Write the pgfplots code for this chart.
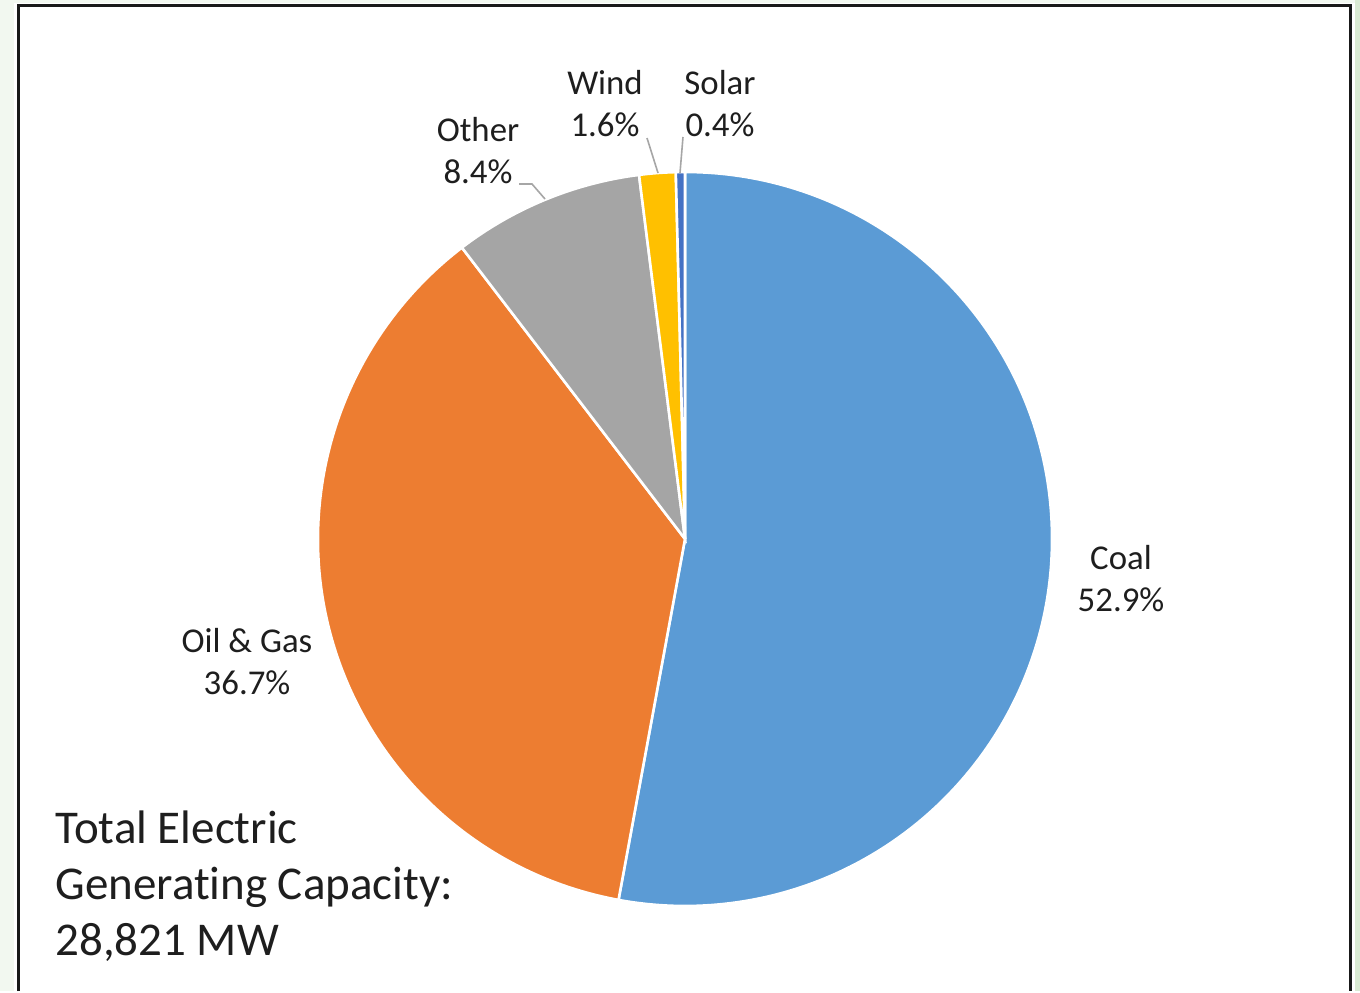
\documentclass[border=0pt]{standalone}
\usepackage{pgfplots}
\pgfplotsset{compat=1.18}
\usepackage{fontspec}
\setmainfont{Carlito}[Ligatures=NoCommon]
\definecolor{coalc}{HTML}{5B9BD5}
\definecolor{oilc}{HTML}{ED7D31}
\definecolor{otherc}{HTML}{A5A5A5}
\definecolor{windc}{HTML}{FFC000}
\definecolor{solarc}{HTML}{4472C4}
\definecolor{leader}{HTML}{A6A6A6}
\definecolor{bgout}{HTML}{F2F8F0}
\definecolor{bgright}{HTML}{D9EAD3}
\definecolor{txt}{HTML}{1E1E1E}
\begin{document}
\begin{tikzpicture}
% shares in percent
\pgfmathsetmacro\aA{90}
\pgfmathsetmacro\aB{\aA-52.9*3.6}% Coal
\pgfmathsetmacro\aC{\aB-36.7*3.6}% Oil & Gas
\pgfmathsetmacro\aD{\aC-8.4*3.6}% Other
\pgfmathsetmacro\aE{\aD-1.6*3.6}% Wind
\pgfmathsetmacro\aF{\aE-0.4*3.6}% Solar
\begin{axis}[
  width=680bp, height=495.5bp, scale only axis,
  xmin=0, xmax=1360, ymin=0, ymax=991, y dir=reverse,
  hide axis, clip=false,
]
% background
\fill[bgout] (axis cs:0,0) rectangle (axis cs:1360,991);
\fill[white] (axis cs:14,3) rectangle (axis cs:1355,991);
\fill[bgright] (axis cs:1355,0) rectangle (axis cs:1360,991);
\draw[black!90, line width=1.5bp] (axis cs:18,991) -- (axis cs:18,6) -- (axis cs:1350,6) -- (axis cs:1350,991);
% pie
\def\R{183.5bp}
\fill[coalc, draw=white, line width=1.3bp] (axis cs:685,539) -- ++(\aA:\R) arc[start angle=\aA, end angle=\aB, radius=\R] -- cycle;
\fill[oilc, draw=white, line width=1.3bp] (axis cs:685,539) -- ++(\aB:\R) arc[start angle=\aB, end angle=\aC, radius=\R] -- cycle;
\fill[otherc, draw=white, line width=1.3bp] (axis cs:685,539) -- ++(\aC:\R) arc[start angle=\aC, end angle=\aD, radius=\R] -- cycle;
\fill[windc, draw=white, line width=1.3bp] (axis cs:685,539) -- ++(\aD:\R) arc[start angle=\aD, end angle=\aE, radius=\R] -- cycle;
\fill[solarc, draw=white, line width=1.3bp] (axis cs:685,539) -- ++(\aE:\R) arc[start angle=\aE, end angle=\aF, radius=\R] -- cycle;
% leader lines
\draw[leader, line width=0.8bp] (axis cs:519,184) -- (axis cs:532,184) -- (axis cs:545,199);
\draw[leader, line width=0.8bp] (axis cs:647,138) -- (axis cs:658,173);
\draw[leader, line width=0.8bp] (axis cs:683,137) -- (axis cs:680,173);
% labels
\tikzset{lbl/.style={font=\fontsize{17.4bp}{21bp}\selectfont, text=txt, align=center, inner sep=0pt, anchor=center}}
\node[lbl] at (axis cs:1121,579) {Coal\\52.9\%};
\node[lbl] at (axis cs:247,662) {Oil \& Gas\\36.7\%};
\node[lbl] at (axis cs:478,151) {Other\\8.4\%};
\node[lbl] at (axis cs:605,104) {Wind\\1.6\%};
\node[lbl] at (axis cs:720,104) {Solar\\0.4\%};
\node[font=\fontsize{23.5bp}{28bp}\selectfont, text=txt, align=left, inner sep=0pt, anchor=west] at (axis cs:55,886) {Total Electric\\Generating Capacity:\\28,821 MW};
\end{axis}
\end{tikzpicture}
\end{document}
